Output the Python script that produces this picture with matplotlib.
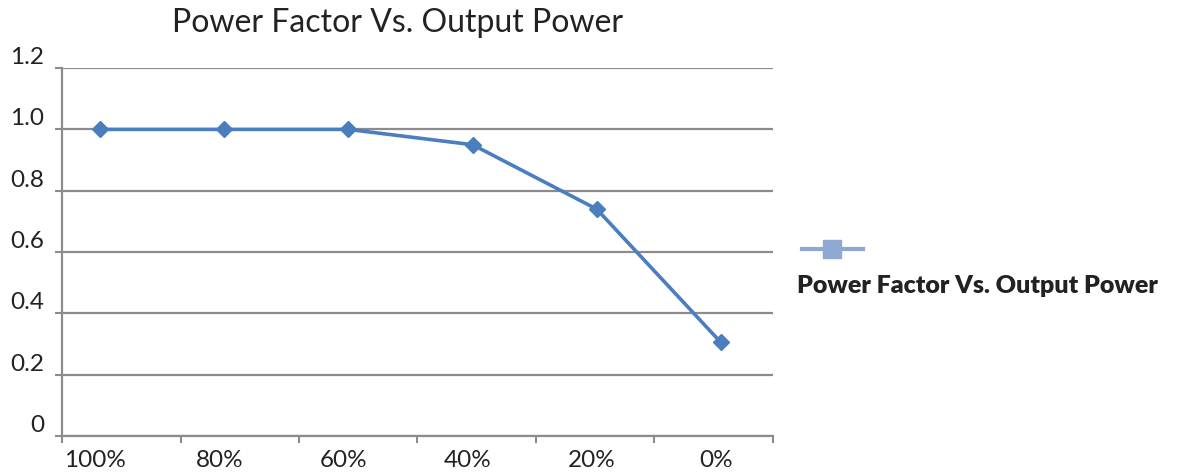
import matplotlib.pyplot as plt
from matplotlib.lines import Line2D

categories = ['100%', '80%', '60%', '40%', '20%', '0%']
power_factor = [1.0, 1.0, 1.0, 0.95, 0.74, 0.305]
title = 'Power Factor Vs. Output Power'

plt.rcParams['font.family'] = ['Lato', 'DejaVu Sans']

fig = plt.figure(figsize=(11.79, 4.76), dpi=100)
ax = fig.add_axes([0.0526, 0.084, 0.603, 0.773])

x = list(range(len(categories)))
ax.plot(x, power_factor, color='#4A7EBF', lw=2.6, marker='D', markersize=8,
        markerfacecolor='#4A7EBF', markeredgecolor='#4A7EBF', zorder=3)

# category axis: points are not centred exactly in their slots
x0, x1 = -0.306, 5.419
ax.set_xlim(x0, x1)
ax.set_ylim(0, 1.2)

step = (x1 - x0) / len(categories)
ax.set_xticks([x0 + k * step for k in range(len(categories) + 1)], minor=True)
ax.set_xticks([i - 0.04 for i in x])
ax.set_xticklabels(categories, fontsize=17.5, color='#222222')
ax.tick_params(axis='x', which='major', length=0, pad=10)
ax.tick_params(axis='x', which='minor', length=5, width=1.5, color='#8C8C8C')

yt = [0, 0.2, 0.4, 0.6, 0.8, 1.0, 1.2]
ax.set_yticks(yt)
ax.set_yticklabels(['0', '0.2', '0.4', '0.6', '0.8', '1.0', '1.2'], fontsize=17.5, color='#222222')
ax.tick_params(axis='y', length=5, width=1.5, color='#8C8C8C', pad=8)
for lab in ax.get_yticklabels():
    lab.set_verticalalignment('bottom')

ax.grid(axis='y', color='#8C8C8C', lw=1.6)
ax.set_axisbelow(True)
for s in ['top', 'right']:
    ax.spines[s].set_visible(False)
for s in ['left', 'bottom']:
    ax.spines[s].set_color('#8C8C8C')
    ax.spines[s].set_linewidth(1.6)

fig.text(0.337, 0.952, title, ha='center', va='center', fontsize=23, color='#222222')

# legend drawn by hand: marker on top, bold label below
handle = Line2D([0.680, 0.732], [0.477, 0.477], transform=fig.transFigure,
                color='#8FA8D2', lw=3)
fig.add_artist(handle)
mk = Line2D([0.706], [0.477], transform=fig.transFigure, marker='s', markersize=13,
            color='#8FA8D2', lw=0)
fig.add_artist(mk)
fig.text(0.676, 0.40, title, ha='left', va='center', fontsize=18,
         fontweight='heavy', color='#222222')

fig.savefig('out.png', dpi=100)
